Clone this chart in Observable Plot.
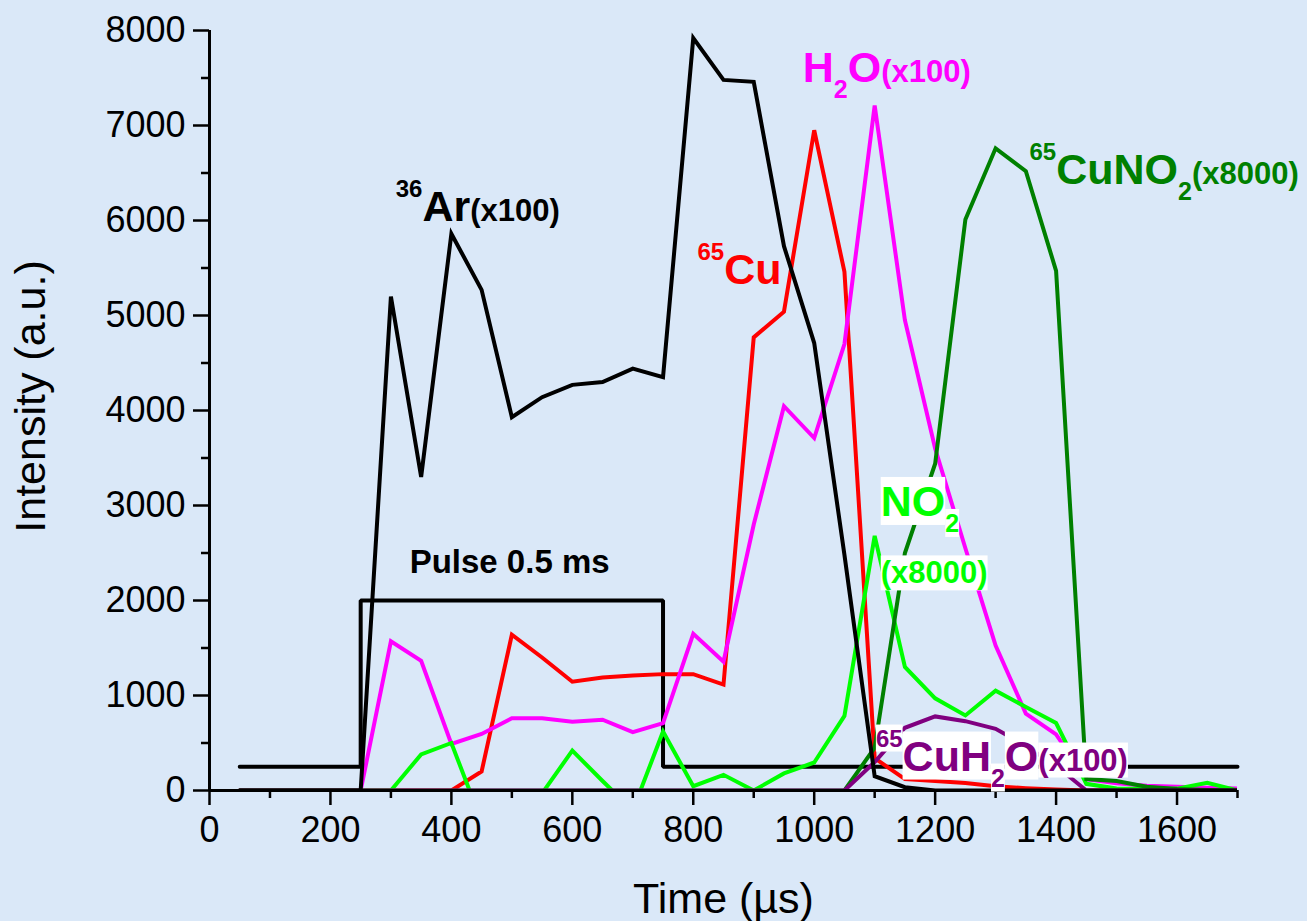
<!DOCTYPE html>
<html>
<head>
<meta charset="utf-8">
<script src="https://cdn.jsdelivr.net/npm/d3@7"></script>
<script src="https://cdn.jsdelivr.net/npm/@observablehq/plot@0.6"></script>
<style>
html, body { margin: 0; padding: 0; background: #DAE8F8; }
#chart { width: 1307px; height: 921px; }
</style>
</head>
<body>
<div id="chart"></div>
<script>
// ---- data ----
const times = [50,100,150,200,250,300,350,400,450,500,550,600,650,700,750,800,850,900,950,1000,1050,1100,1150,1200,1250,1300,1350,1400,1450,1500,1550,1600,1650,1700];
const ar36x100 = [0,0,0,0,0,5200,3300,5860,5270,3930,4140,4270,4300,4440,4350,7920,7480,7460,5730,4710,2480,150,35,0,0,0,0,0,0,0,0,0,0,0];
const cu65 = [0,0,0,0,0,0,0,0,200,1640,1400,1145,1190,1210,1225,1225,1115,4770,5040,6950,5460,340,120,100,80,45,25,10,0,0,0,0,0,0];
const h2ox100 = [0,0,0,0,0,1570,1365,490,595,760,760,725,745,615,710,1650,1355,2800,4045,3710,4700,7210,4950,3600,2550,1525,810,590,120,75,50,40,30,20];
const no2x8000 = [0,0,0,0,0,0,380,500,-330,-200,-30,420,100,-210,620,45,165,0,180,295,785,2680,1300,970,790,1050,880,710,70,20,15,20,80,0];
const cuno2x8000 = [0,0,0,0,0,0,0,0,0,0,0,0,0,0,0,0,0,0,0,0,0,450,2500,3440,6010,6760,6520,5470,120,100,40,15,5,0];
const cuh2ox100 = [0,0,0,0,0,0,0,0,0,0,0,0,0,0,0,0,0,0,0,0,0,300,660,780,730,650,470,260,0,0,0,0,0,0];
const pulseTimes = [50,250,250,750,750,1700];
const pulseValues = [250,250,2000,2000,250,250];

const xMajorTicks = [0,200,400,600,800,1000,1200,1400,1600];
const xMinorTicks = [100,300,500,700,900,1100,1300,1500,1700];
const yMajorTicks = [0,1000,2000,3000,4000,5000,6000,7000,8000];
const yMinorTicks = [500,1500,2500,3500,4500,5500,6500,7500];

const xTitle = "Time (µs)";
const yTitle = "Intensity (a.u.)";

// annotation labels: parts are [text, kind]
const annos = [
  {x: 308, y: 5990, color: "#000000", box: false, parts: [["36","sup"],["Ar","big"],["(x100)","small"]]},
  {x: 807, y: 5330, color: "#ff0000", box: false, parts: [["65","sup"],["Cu","big"]]},
  {x: 981, y: 7460, color: "#ff00ff", box: false, parts: [["H","big"],["2","sub"],["O","big"],["(x100)","small"]]},
  {x: 1356, y: 6380, color: "#008000", box: false, parts: [["65","sup"],["CuNO","big"],["2","sub"],["(x8000)","small"]]},
  {x: 1110, y: 2890, color: "#00ff00", box: true, parts: [["NO","big"],["2","sub"]]},
  {x: 1110, y: 2180, color: "#00ff00", box: true, parts: [["(x8000)","small"]]},
  {x: 1102, y: 210, color: "#800080", box: true, parts: [["65","sup"],["CuH","big"],["2","sub"],["O","big"],["(x100)","small"]]},
  {x: 331, y: 2285, color: "#000000", box: false, parts: [["Pulse 0.5 ms","pulse"]]}
];

const series = [
  {name: "65Cu", color: "#ff0000", values: cu65},
  {name: "H2O", color: "#ff00ff", values: h2ox100},
  {name: "NO2", color: "#00ff00", values: no2x8000},
  {name: "65CuNO2", color: "#008000", values: cuno2x8000},
  {name: "65CuH2O", color: "#800080", values: cuh2ox100},
  {name: "36Ar", color: "#000000", values: ar36x100}
];

const pulse = pulseTimes.map((t, i) => ({t, v: pulseValues[i]}));
const lineW = 4;
const font = "'Liberation Sans', Arial, sans-serif";

const kindStyle = {
  big: {size: 43, shift: 0},
  small: {size: 31, shift: 0},
  sup: {size: 24, shift: -24},
  sub: {size: 25, shift: 16},
  pulse: {size: 33, shift: 0}
};

const marks = [
  Plot.line(pulse, {x: "t", y: "v", stroke: "#000", strokeWidth: lineW, strokeLinejoin: "miter"}),
  ...series.map(s => Plot.line(times.map((t, i) => ({t, v: s.values[i]})), {
    x: "t", y: "v", stroke: s.color, strokeWidth: lineW, clip: true, strokeLinejoin: "miter", strokeMiterlimit: 4
  })),
  Plot.ruleX([0], {stroke: "#000", strokeWidth: 3}),
  Plot.ruleY([0], {stroke: "#000", strokeWidth: 3}),
  Plot.axisX({ticks: xMajorTicks, tickSize: 15, tickPadding: 11, fontSize: 36, label: null, tickFormat: d => String(d), strokeWidth: 2.5}),
  Plot.axisX({ticks: xMinorTicks, tickSize: 8, label: null, tickFormat: () => "", strokeWidth: 2.5}),
  Plot.axisY({ticks: yMajorTicks, tickSize: 16, tickPadding: 8, fontSize: 36, label: null, tickFormat: d => String(d), strokeWidth: 2.5}),
  Plot.axisY({ticks: yMinorTicks, tickSize: 8, label: null, tickFormat: () => "", strokeWidth: 2.5}),
  Plot.text([xTitle], {frameAnchor: "bottom", text: d => d, fontSize: 43, dy: 109, fill: "#000", textAnchor: "middle", lineAnchor: "middle"}),
  Plot.text([yTitle], {frameAnchor: "left", text: d => d, fontSize: 43, rotate: -90, dx: -178, dy: -14, fill: "#000", textAnchor: "middle", lineAnchor: "middle"}),
  ...annos.map(a => Plot.text([a], {
    x: "x", y: "y", text: d => d.parts.map(p => p[0]).join(""), fill: a.color,
    textAnchor: "start", lineAnchor: "bottom", fontWeight: "bold", fontSize: 43
  }))
];

const plot = Plot.plot({
  width: 1307,
  height: 921,
  marginLeft: 209,
  marginRight: 70,
  marginTop: 30,
  marginBottom: 131,
  x: {domain: [0, 1700], axis: null},
  y: {domain: [0, 8000], axis: null},
  style: {background: "#DAE8F8", fontFamily: font, color: "#000", overflow: "visible"},
  marks
});

document.getElementById("chart").appendChild(plot);

// post-process annotation labels: superscripts, subscripts, size changes, white boxes
const svgNS = "http://www.w3.org/2000/svg";
const allTexts = Array.from(plot.querySelectorAll("text"));
annos.forEach(a => {
  const joined = a.parts.map(p => p[0]).join("");
  const el = allTexts.find(t => t.textContent === joined && !t.__done);
  if (!el) return;
  el.__done = true;
  el.removeAttribute("dy");
  el.removeAttribute("y");
  while (el.firstChild) el.removeChild(el.firstChild);
  let cur = 0;
  a.parts.forEach(([txt, kind]) => {
    const st = kindStyle[kind];
    const ts = document.createElementNS(svgNS, "tspan");
    ts.setAttribute("font-size", st.size);
    ts.setAttribute("dy", st.shift - cur);
    cur = st.shift;
    ts.textContent = txt;
    el.appendChild(ts);
  });
  if (a.box) {
    let idx = 0;
    a.parts.forEach(([txt]) => {
      let x0 = Infinity, y0 = Infinity, x1 = -Infinity, y1 = -Infinity;
      for (let k = 0; k < txt.length; k++) {
        const e = el.getExtentOfChar(idx + k);
        x0 = Math.min(x0, e.x); y0 = Math.min(y0, e.y);
        x1 = Math.max(x1, e.x + e.width); y1 = Math.max(y1, e.y + e.height);
      }
      idx += txt.length;
      const r = document.createElementNS(svgNS, "rect");
      r.setAttribute("x", x0);
      r.setAttribute("y", y0);
      r.setAttribute("width", x1 - x0);
      r.setAttribute("height", y1 - y0);
      r.setAttribute("fill", "#ffffff");
      if (el.getAttribute("transform")) r.setAttribute("transform", el.getAttribute("transform"));
      el.parentNode.insertBefore(r, el);
    });
  }
});
</script>
</body>
</html>
